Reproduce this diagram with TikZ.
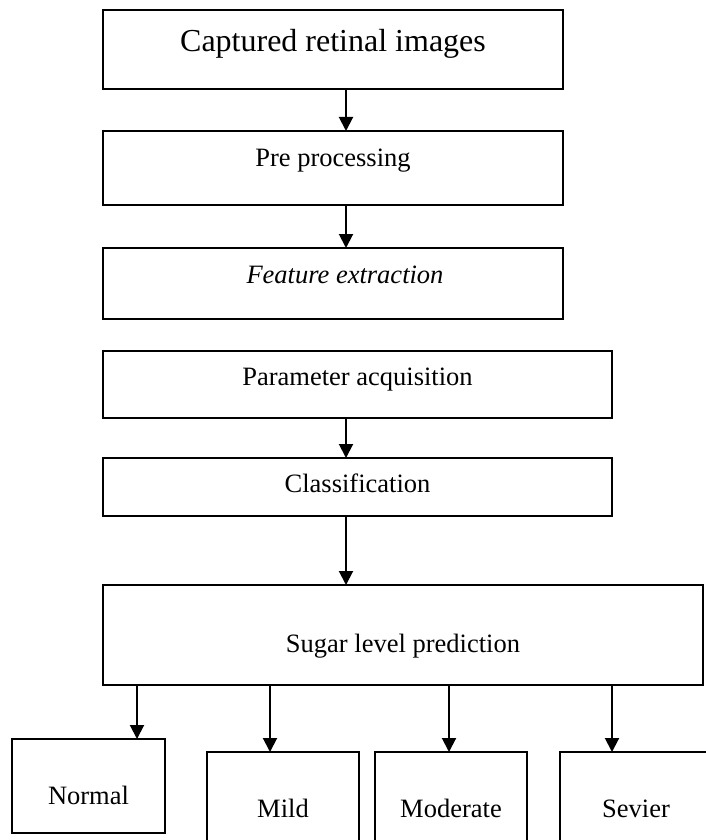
\documentclass[tikz,border=0pt]{standalone}
\usepackage{fontspec}
\setmainfont{Liberation Serif}
\usetikzlibrary{arrows.meta}

\begin{document}
\begin{tikzpicture}[x=1pt, y=-1pt,
  every node/.style={draw, line width=2pt, rectangle, inner sep=0pt, outer sep=0pt, font=\fontsize{26.5}{32}\selectfont, text height=18.5pt, text depth=6.6pt},
  arr/.style={line width=2pt, -{Triangle[length=14pt, width=14pt]}}]
\useasboundingbox (0,0) rectangle (706,840);
\clip (0,0) rectangle (706,840);
\node[minimum width=460, minimum height=79, font=\fontsize{32}{38}\selectfont, text height=22.4pt, text depth=8pt] (cap) at (333,49.5) {\raisebox{5pt}{Captured retinal images}};
\node[minimum width=460, minimum height=74] (pre) at (333,168) {\raisebox{7pt}{Pre processing}};
\node[minimum width=460, minimum height=71] (feat) at (333,283.5) {\raisebox{6pt}{\hspace{24pt}\itshape Feature extraction}};
\node[minimum width=509, minimum height=67] (param) at (357.5,384.5) {\raisebox{4.5pt}{Parameter acquisition}};
\node[minimum width=509, minimum height=58] (class) at (357.5,487) {Classification};
\node[minimum width=600, minimum height=100] (sugar) at (403,635) {\raisebox{-11.5pt}{Sugar level prediction}};

\node[minimum width=153, minimum height=94] (normal) at (88.5,786) {\raisebox{-13pt}{Normal}};
\node[minimum width=152, minimum height=94] (mild) at (283,799) {\raisebox{-13pt}{Mild}};
\node[minimum width=152, minimum height=94] (moderate) at (451,799) {\raisebox{-13pt}{Moderate}};
\node[minimum width=152, minimum height=94] (sevier) at (636,799) {\raisebox{-13pt}{Sevier}};

\draw[arr] ([xshift=13]cap.south) -- ([xshift=13]pre.north);
\draw[arr] ([xshift=13]pre.south) -- ([xshift=13]feat.north);
\draw[arr] ([xshift=-11.5]param.south) -- ([xshift=-11.5]class.north);
\draw[arr] ([xshift=-11.5]class.south) -- ([xshift=-11.5]class.south |- sugar.north);

\draw[arr] ([xshift=48.5]normal.north |- sugar.south) -- ([xshift=48.5]normal.north);
\draw[arr] ([xshift=-13]mild.north |- sugar.south) -- ([xshift=-13]mild.north);
\draw[arr] ([xshift=-2]moderate.north |- sugar.south) -- ([xshift=-2]moderate.north);
\draw[arr] ([xshift=-24]sevier.north |- sugar.south) -- ([xshift=-24]sevier.north);
\end{tikzpicture}
\end{document}
